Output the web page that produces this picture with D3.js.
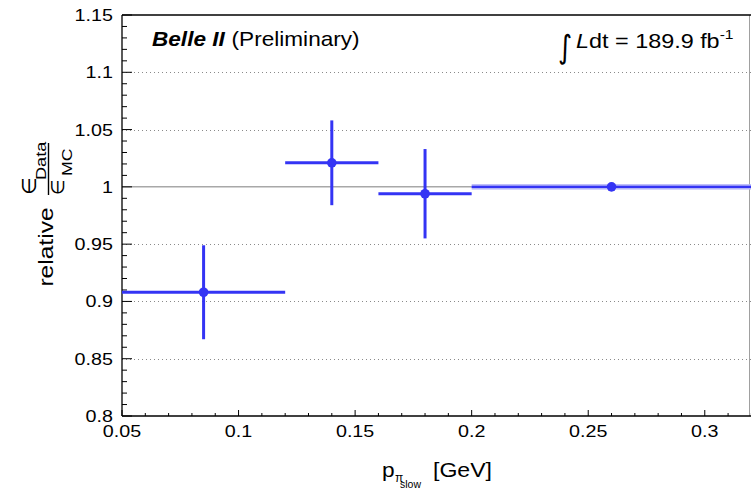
<!DOCTYPE html>
<html>
<head>
<meta charset="utf-8">
<script src="https://cdn.jsdelivr.net/npm/d3@7"></script>
<style>
  html, body { margin: 0; padding: 0; background: #fff; }
  svg { display: block; }
  text { font-family: "Liberation Sans", Arial, Helvetica, sans-serif; fill: #000; }
</style>
</head>
<body>
<script>
// ---- data ----
const binCenters = [0.085, 0.14, 0.18, 0.26];
const binLow     = [0.05, 0.12, 0.16, 0.20];
const binHigh    = [0.12, 0.16, 0.20, 0.32];
const ratio      = [0.908, 1.021, 0.994, 1.000];
const ratioErr   = [0.041, 0.037, 0.039, 0.000];
const yTicks     = [0.8, 0.85, 0.9, 0.95, 1, 1.05, 1.1, 1.15];
const yTickLabels= ["0.8", "0.85", "0.9", "0.95", "1", "1.05", "1.1", "1.15"];
const xTicks     = [0.05, 0.1, 0.15, 0.2, 0.25, 0.3];
const xTickLabels= ["0.05", "0.1", "0.15", "0.2", "0.25", "0.3"];
const gridValues = [0.85, 0.9, 0.95, 1.05, 1.1];

const W = 751, H = 489;
const pLeft = 122, pRight = 751.4, pTop = 15, pBottom = 416;
const blue = "#3434f4";

const svg = d3.select("body").append("svg").attr("width", W).attr("height", H);

const x = d3.scaleLinear().domain([0.05, 0.32]).range([pLeft, pRight]);
const y = d3.scaleLinear().domain([0.8, 1.15]).range([pBottom, pTop]);

// helper for stretched text
function txt(g, str, px, py, size, opts = {}) {
  const rot = opts.rotate || 0, sx = opts.stretch || 1;
  const t = g.append("text")
    .attr("transform", `translate(${px},${py}) rotate(${rot}) scale(${sx},1)`)
    .attr("font-size", size)
    .attr("text-anchor", opts.anchor || "start")
    .text(str);
  if (opts.weight) t.attr("font-weight", opts.weight);
  if (opts.style) t.attr("font-style", opts.style);
  if (opts.family) t.style("font-family", opts.family);
  return t;
}

// grid lines (dotted)
svg.append("g").selectAll("line").data(gridValues).join("line")
  .attr("x1", pLeft).attr("x2", W)
  .attr("y1", d => Math.round(y(d)) + 0.5).attr("y2", d => Math.round(y(d)) + 0.5)
  .attr("stroke", "#8a8a8a").attr("stroke-width", 1).attr("stroke-dasharray", "1,3");

// unity line
svg.append("line")
  .attr("x1", pLeft).attr("x2", W)
  .attr("y1", y(1)).attr("y2", y(1))
  .attr("stroke", "#a8a8a8").attr("stroke-width", 1.5);

// right frame (gray)
svg.append("line").attr("x1", 749.5).attr("x2", 749.5).attr("y1", pTop).attr("y2", pBottom)
  .attr("stroke", "#a0a0a0").attr("stroke-width", 1);

// axes: custom ROOT-like ticks
const yMinor = d3.range(80, 116).map(v => v / 100);
const xMinor = d3.range(5, 33).map(v => v / 100);
const axisG = svg.append("g");
axisG.selectAll(".ymin").data(yMinor).join("line")
  .attr("x1", pLeft).attr("x2", d => pLeft + (yTicks.some(t => Math.abs(t - d) < 1e-6) ? 10 : 5))
  .attr("y1", d => y(d)).attr("y2", d => y(d))
  .attr("stroke", "#000").attr("stroke-width", 1);
axisG.selectAll(".xmin").data(xMinor).join("line")
  .attr("x1", d => x(d)).attr("x2", d => x(d))
  .attr("y1", pBottom).attr("y2", d => pBottom - (xTicks.some(t => Math.abs(t - d) < 1e-6) ? 6 : 3))
  .attr("stroke", "#000").attr("stroke-width", 1);
// frame lines
axisG.append("line").attr("x1", pLeft).attr("x2", pLeft).attr("y1", pTop).attr("y2", pBottom)
  .attr("stroke", "#000").attr("stroke-width", 1.3);
axisG.append("line").attr("x1", pLeft).attr("x2", W).attr("y1", pBottom).attr("y2", pBottom)
  .attr("stroke", "#000").attr("stroke-width", 1.3);
axisG.append("line").attr("x1", pLeft).attr("x2", W).attr("y1", pTop).attr("y2", pTop)
  .attr("stroke", "#000").attr("stroke-width", 1.3);

// tick labels
const lab = svg.append("g");
yTicks.forEach((v, i) => txt(lab, yTickLabels[i], 113, y(v) + 6, 17, { anchor: "end", stretch: 1.16 }));
xTicks.forEach((v, i) => txt(lab, xTickLabels[i], x(v), 437, 17, { anchor: "middle", stretch: 1.16 }));

// data
const pts = binCenters.map((c, i) => ({ c, lo: binLow[i], hi: binHigh[i], v: ratio[i], e: ratioErr[i] }));
const dg = svg.append("g");
const last = pts[pts.length - 1];
dg.append("rect")
  .attr("x", x(last.lo)).attr("width", x(last.hi) - x(last.lo))
  .attr("y", y(last.v) - 2.7).attr("height", 5.4)
  .attr("fill", "#b4b4f8");
dg.selectAll(".hbar").data(pts).join("line")
  .attr("x1", d => x(d.lo)).attr("x2", d => x(d.hi))
  .attr("y1", d => y(d.v)).attr("y2", d => y(d.v))
  .attr("stroke", blue).attr("stroke-width", d => d.e > 0 ? 3 : 2.2);
dg.selectAll(".vbar").data(pts.filter(d => d.e > 0)).join("line")
  .attr("x1", d => x(d.c)).attr("x2", d => x(d.c))
  .attr("y1", d => y(d.v - d.e)).attr("y2", d => y(d.v + d.e))
  .attr("stroke", blue).attr("stroke-width", 3);
dg.selectAll("circle").data(pts).join("circle")
  .attr("cx", d => x(d.c)).attr("cy", d => y(d.v)).attr("r", 4.8)
  .attr("fill", blue);

// labels inside plot
const tg = svg.append("g");
const belle = tg.append("text")
  .attr("transform", "translate(152,46) scale(1.13,1)")
  .attr("font-size", 20);
belle.append("tspan").attr("font-weight", "bold").attr("font-style", "italic").text("Belle II");
belle.append("tspan").attr("dx", 6).text("(Preliminary)");

txt(tg, "∫", 558, 58, 32, { family: "DejaVu Sans", stretch: 0.85 });
const lumi = tg.append("text")
  .attr("transform", "translate(576,48) scale(1.2,1)")
  .attr("font-size", 19.5);
lumi.append("tspan").attr("font-style", "italic").text("L");
lumi.append("tspan").text("dt = 189.9 fb");
lumi.append("tspan").attr("font-size", 13).attr("dy", -9).text("-1");

// x-axis title
const xt = svg.append("g");
txt(xt, "p", 382, 477, 21, { stretch: 1.08 });
txt(xt, "π", 395, 482, 12, { stretch: 1.0 });
txt(xt, "slow", 400, 488, 10, { stretch: 1.05 });
txt(xt, "[GeV]", 433, 477, 21, { stretch: 1.1 });

// y-axis title
const yt = svg.append("g");
txt(yt, "relative", 53, 247, 20.5, { rotate: -90, anchor: "middle", stretch: 1.2 });
const frac = yt.append("g").attr("transform", "translate(48.5,195) rotate(-90)");
frac.append("line").attr("x1", 0).attr("x2", 52).attr("y1", 0).attr("y2", 0)
  .attr("stroke", "#000").attr("stroke-width", 1.4);
txt(frac, "∈", 0, -13, 20, { family: "DejaVu Sans" });
txt(frac, "Data", 15, -3, 14.5, { stretch: 1.25 });
txt(frac, "∈", 0, 15, 18, { family: "DejaVu Sans" });
txt(frac, "MC", 19, 23.5, 14.5, { stretch: 1.22 });
</script>
</body>
</html>
